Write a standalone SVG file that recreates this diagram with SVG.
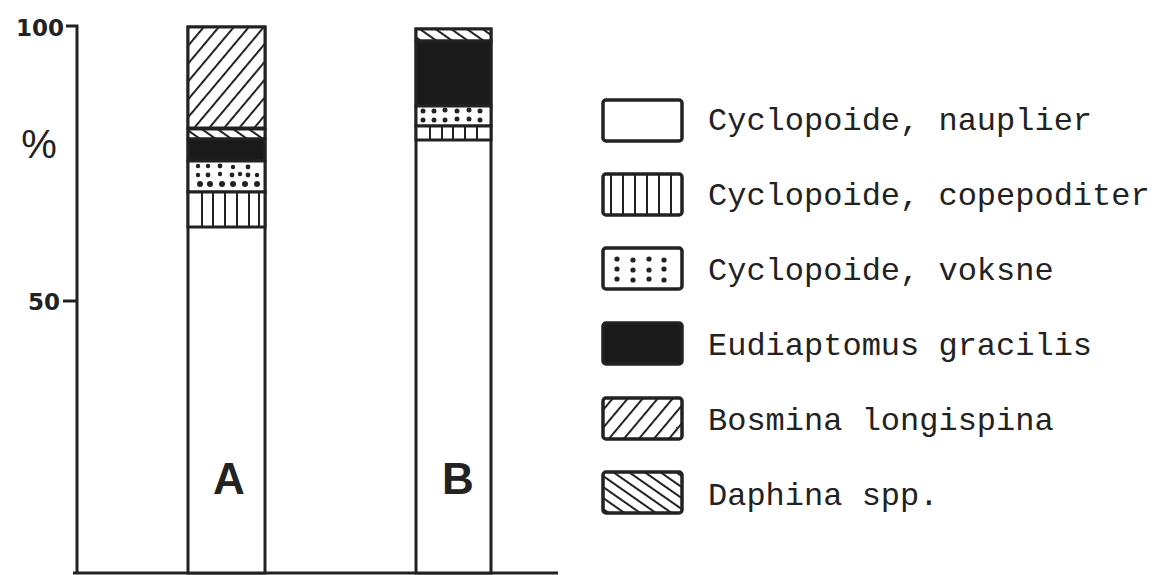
<svg xmlns="http://www.w3.org/2000/svg" width="1155" height="575" viewBox="0 0 1155 575">
<style>
.ln{stroke:#222;stroke-width:3;fill:none}
.seg{stroke:#222;stroke-width:3}
.thin{stroke:#222;stroke-width:2}
.dot{fill:#222}
.lab{font-family:"Liberation Mono","Courier New",monospace;font-size:32px;fill:#222}
.ax{font-family:"Liberation Sans",Arial,sans-serif;font-weight:bold;fill:#222}
.tick{font-family:"DejaVu Sans",sans-serif;font-weight:bold;font-size:23px;fill:#222}
.white{fill:#fff}
.black{fill:#1a1a1a}
.bos{fill:url(#bosmina)}
.dap{fill:url(#daphnia)}
.box{stroke:#222;stroke-width:3.5}
</style>
<defs>
<pattern id="bosmina" patternUnits="userSpaceOnUse" width="11.5" height="20" patternTransform="rotate(40)">
<rect width="11.5" height="20" fill="#fff"/>
<line x1="1" y1="0" x2="1" y2="20" stroke="#222" stroke-width="2"/>
</pattern>
<pattern id="daphnia" patternUnits="userSpaceOnUse" width="9" height="20" patternTransform="rotate(-55)">
<rect width="9" height="20" fill="#fff"/>
<line x1="1" y1="0" x2="1" y2="20" stroke="#222" stroke-width="2"/>
</pattern>
</defs>
<rect width="1155" height="575" fill="#fff"/>

<g id="axes">
<path class="ln" d="M66,26 L77,26 L77,573"/>
<path class="ln" d="M63,301 L77,301"/>
<path class="ln" d="M73,573 L558,573"/>
<text class="tick" x="64" y="36" text-anchor="end">100</text>
<text class="tick" x="60" y="310" text-anchor="end">50</text>
<text x="39" y="158" font-family="Liberation Sans,Arial,sans-serif" font-size="40" fill="#222" text-anchor="middle">%</text>
</g>

<g id="bar-A">
<rect class="white seg" x="188" y="27" width="77" height="546"/>
<rect class="bos seg" x="188" y="27" width="77" height="101"/>
<rect class="dap seg" x="188" y="129" width="77" height="10"/>
<rect class="black seg" x="188" y="139" width="77" height="22"/>
<rect class="white seg" x="188" y="161" width="77" height="31"/>
<rect class="white seg" x="188" y="192" width="77" height="35"/>
<g class="thin">
<line x1="202" y1="193" x2="202" y2="226"/><line x1="213" y1="193" x2="213" y2="226"/>
<line x1="225" y1="193" x2="225" y2="226"/><line x1="237" y1="193" x2="237" y2="226"/>
<line x1="249" y1="193" x2="249" y2="226"/><line x1="259" y1="193" x2="259" y2="226"/>
</g>
<g class="dot">
<circle cx="198" cy="166" r="2.2"/><circle cx="208" cy="166" r="2.2"/><circle cx="220" cy="166" r="2.4"/><circle cx="233" cy="167" r="2.2"/><circle cx="248" cy="167" r="2.4"/>
<circle cx="198" cy="175" r="2.2"/><circle cx="208" cy="175" r="2.4"/><circle cx="220" cy="174" r="2.2"/><circle cx="232" cy="175" r="2.4"/><circle cx="240" cy="174" r="2.2"/><circle cx="248" cy="175" r="2.4"/><circle cx="257" cy="175" r="2.2"/>
<circle cx="200" cy="184" r="3"/><circle cx="210" cy="184" r="3"/><circle cx="222" cy="184" r="3"/><circle cx="233" cy="184" r="3"/><circle cx="245" cy="184" r="3"/><circle cx="257" cy="184" r="3"/>
</g>
<text class="ax" x="229" y="494" font-size="44" text-anchor="middle">A</text>
</g>

<g id="bar-B">
<rect class="white seg" x="416" y="29" width="75" height="544"/>
<rect class="dap seg" x="416" y="29" width="75" height="12"/>
<rect class="black seg" x="416" y="41" width="75" height="65"/>
<rect class="white seg" x="416" y="106" width="75" height="20"/>
<rect class="white seg" x="416" y="126" width="75" height="14"/>
<g class="thin">
<line x1="430" y1="127" x2="430" y2="139"/><line x1="442" y1="127" x2="442" y2="139"/>
<line x1="453" y1="127" x2="453" y2="139"/><line x1="465" y1="127" x2="465" y2="139"/>
<line x1="477" y1="127" x2="477" y2="139"/>
</g>
<g class="dot">
<circle cx="423" cy="111" r="2.5"/><circle cx="434" cy="111" r="2.5"/><circle cx="445" cy="110" r="2.5"/><circle cx="457" cy="111" r="2.5"/><circle cx="469" cy="110" r="2.5"/><circle cx="480" cy="111" r="2.5"/>
<circle cx="423" cy="120" r="2.5"/><circle cx="434" cy="120" r="2.5"/><circle cx="445" cy="120" r="2.5"/><circle cx="457" cy="119" r="2.5"/><circle cx="469" cy="119" r="2.5"/><circle cx="480" cy="120" r="2.5"/>
</g>
<text class="ax" x="458" y="494" font-size="44" text-anchor="middle">B</text>
</g>

<g id="legend-nauplier">
<rect class="white box" x="603" y="100" width="79" height="41" rx="3"/>
<text class="lab" x="708" y="130">Cyclopoide, nauplier</text>
</g>
<g id="legend-copepoditer">
<rect class="white box" x="603" y="174" width="79" height="41" rx="3"/>
<g class="thin">
<line x1="611" y1="175" x2="611" y2="214"/><line x1="623" y1="175" x2="623" y2="214"/>
<line x1="635" y1="175" x2="635" y2="214"/><line x1="647" y1="175" x2="647" y2="214"/>
<line x1="659" y1="175" x2="659" y2="214"/><line x1="671" y1="175" x2="671" y2="214"/>
</g>
<text class="lab" x="708" y="205">Cyclopoide, copepoditer</text>
</g>
<g id="legend-voksne">
<rect class="white box" x="603" y="248" width="79" height="41" rx="3"/>
<g class="dot">
<circle cx="617" cy="259" r="2.6"/><circle cx="633" cy="260" r="2.6"/><circle cx="649" cy="259" r="2.6"/><circle cx="664" cy="260" r="2.6"/>
<circle cx="617" cy="269" r="2.6"/><circle cx="633" cy="270" r="2.6"/><circle cx="649" cy="270" r="2.6"/><circle cx="664" cy="269" r="2.6"/>
<circle cx="617" cy="279" r="2.6"/><circle cx="633" cy="280" r="2.6"/><circle cx="649" cy="279" r="2.6"/><circle cx="664" cy="280" r="2.6"/>
</g>
<text class="lab" x="708" y="280">Cyclopoide, voksne</text>
</g>
<g id="legend-eudiaptomus">
<rect class="black box" x="603" y="323" width="79" height="41" rx="3"/>
<text class="lab" x="708" y="355">Eudiaptomus gracilis</text>
</g>
<g id="legend-bosmina">
<rect class="bos box" x="603" y="398" width="79" height="41" rx="3"/>
<text class="lab" x="708" y="430">Bosmina longispina</text>
</g>
<g id="legend-daphina">
<rect class="dap box" x="603" y="472" width="79" height="41" rx="3"/>
<text class="lab" x="708" y="505">Daphina spp.</text>
</g>
</svg>
